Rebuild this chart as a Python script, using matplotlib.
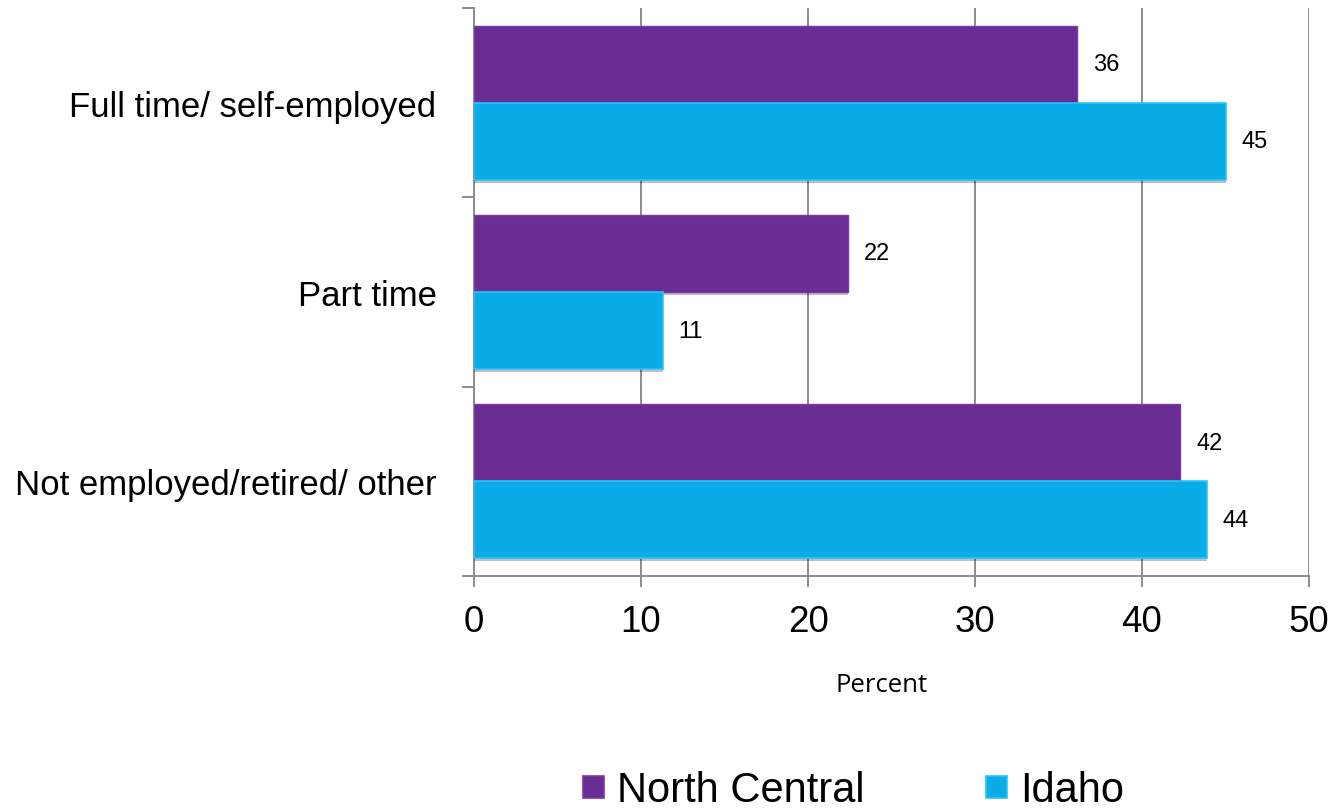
import matplotlib
matplotlib.use("Agg")
import matplotlib.pyplot as plt
import matplotlib.patheffects as pe
from matplotlib.patches import Rectangle
import numpy as np

categories = ["Full time/ self-employed", "Part time", "Not employed/retired/ other"]
series_names = ["North Central", "Idaho"]
north_central = [36.1, 22.4, 42.3]
idaho = [45.0, 11.3, 43.9]
x_ticks = [0, 10, 20, 30, 40, 50]

c_nc = "#6A2D93"
c_id = "#0AACE8"
e_nc = "#7A3AA5"
e_id = "#25C6F7"
grid_c = "#8C8C8C"

plt.rcParams["font.family"] = ["Liberation Sans", "DejaVu Sans"]

W, H = 1334, 812
fig = plt.figure(figsize=(W / 100, H / 100), dpi=100)
ax = fig.add_axes([474 / W, 1 - 577 / H, (1309 - 474) / W, (577 - 9) / H])

n = len(categories)
ypos = np.arange(n)[::-1].astype(float)
h = 0.407
off = 0.2035

shadow = [pe.SimplePatchShadow(offset=(0, -2), shadow_rgbFace="#000000", alpha=0.25), pe.Normal()]
b1 = ax.barh(ypos + off, north_central, height=h, color=c_nc, edgecolor=e_nc, linewidth=1.0, zorder=3)
b2 = ax.barh(ypos - off, idaho, height=h, color=c_id, edgecolor=e_id, linewidth=1.2, zorder=3)
for b in list(b1) + list(b2):
    b.set_path_effects(shadow)

for yy, v in zip(ypos + off, north_central):
    ax.text(v + 0.95, yy, f"{v:.0f}", va="center", ha="left", fontsize=17, color="black", zorder=4)
for yy, v in zip(ypos - off, idaho):
    ax.text(v + 0.95, yy, f"{v:.0f}", va="center", ha="left", fontsize=17, color="black", zorder=4)

ax.set_xlim(0, 50)
ax.set_ylim(-0.5, n - 0.5)
ax.set_xticks(x_ticks)
ax.set_xticklabels([str(t) for t in x_ticks], fontsize=26.5)
ax.set_yticks(ypos)
ax.set_yticklabels(categories, fontsize=25)
ax.set_yticks(np.arange(-0.5, n, 1.0), minor=True)
ax.tick_params(axis="y", which="major", length=0, pad=27)
ax.tick_params(axis="y", which="minor", length=8.5, width=1.4, color=grid_c)
ax.tick_params(axis="x", which="major", length=8, width=1.4, color=grid_c, pad=12)

ax.grid(axis="x", color=grid_c, linewidth=1.4, zorder=0)
ax.set_axisbelow(True)
for s in ["top", "right"]:
    ax.spines[s].set_visible(False)
for s in ["left", "bottom"]:
    ax.spines[s].set_color(grid_c)
    ax.spines[s].set_linewidth(1.4)

fig.text(881.5 / W, 1 - 692 / H, "Percent", fontsize=18.5, family=["Open Sans", "DejaVu Sans"],
         ha="center", va="baseline")

# legend
leg_items = [(series_names[0], c_nc, e_nc, 583, 617), (series_names[1], c_id, e_id, 986, 1020)]
for name, fc, ec, sx, tx in leg_items:
    fig.patches.append(Rectangle((sx / W, 1 - 799 / H), 21 / W, 22 / H, transform=fig.transFigure,
                                 facecolor=fc, edgecolor=ec, linewidth=1.2))
    fig.text(tx / W, 1 - 802 / H, name, fontsize=30, ha="left", va="baseline")

fig.savefig("out.png", dpi=100)
